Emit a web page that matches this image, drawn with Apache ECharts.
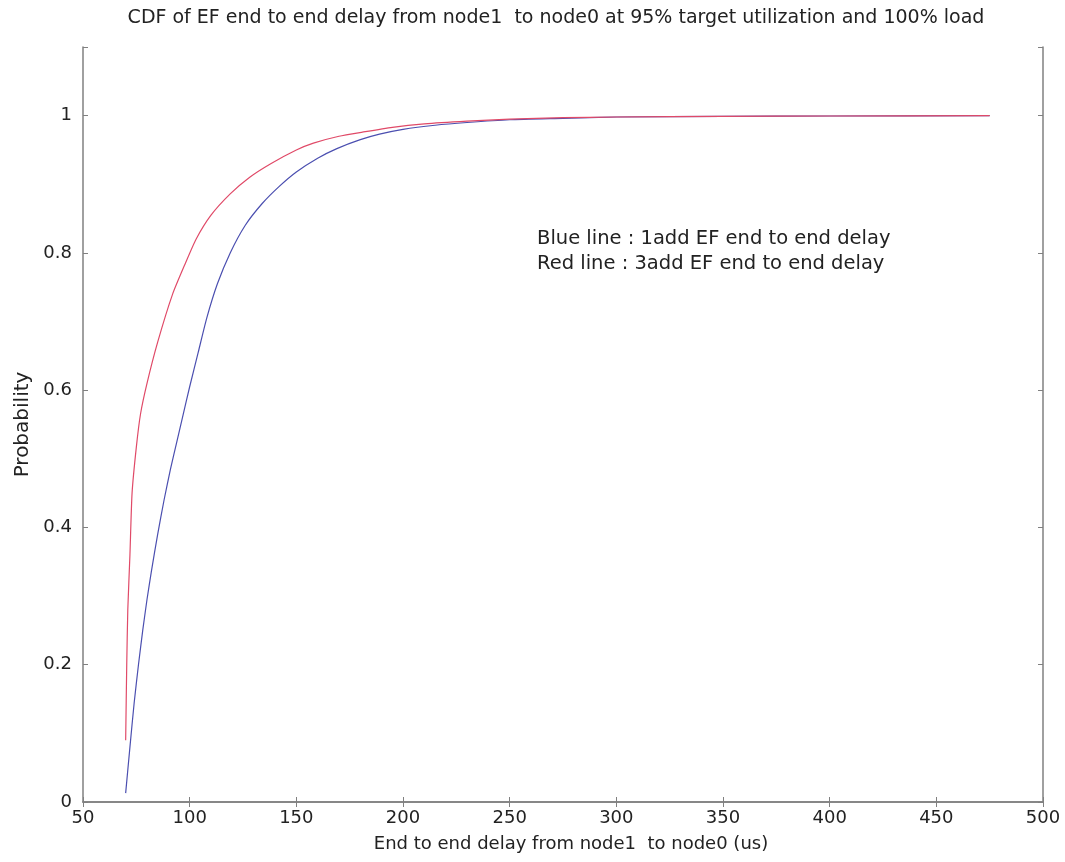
<!DOCTYPE html>
<html>
<head>
<meta charset="utf-8">
<script src="https://cdn.jsdelivr.net/npm/echarts@6/dist/echarts.min.js"></script>
<style>
  html, body { margin: 0; padding: 0; background: #fff; }
  #chart { width: 1065px; height: 862px; }
</style>
</head>
<body>
<div id="chart"></div>
<script>
// CDF of end-to-end delay (x in us, y = cumulative probability)
const delay1add = [70, 72, 74, 76, 78, 80, 82, 85, 88, 91, 94, 97, 100, 104, 108, 113, 119, 126, 134, 142, 150, 160, 169, 180, 189, 200, 215, 230, 250, 275, 300, 350, 400, 475];
const prob1add  = [0.013, 0.08, 0.145, 0.2, 0.25, 0.295, 0.335, 0.39, 0.44, 0.485, 0.525, 0.565, 0.605, 0.655, 0.705, 0.755, 0.80, 0.84, 0.872, 0.897, 0.918, 0.938, 0.952, 0.965, 0.973, 0.980, 0.986, 0.990, 0.994, 0.996, 0.998, 0.999, 0.9995, 1.0];

const delay3add = [70, 70.5, 71, 72, 73, 75, 77, 80, 85, 92, 98, 103, 110, 119, 128, 138, 150, 158, 170, 181, 195, 210, 230, 250, 275, 300, 350, 400, 475];
const prob3add  = [0.09, 0.2, 0.28, 0.36, 0.45, 0.517, 0.566, 0.61, 0.67, 0.74, 0.785, 0.82, 0.855, 0.886, 0.91, 0.93, 0.95, 0.96, 0.97, 0.976, 0.983, 0.988, 0.992, 0.995, 0.997, 0.998, 0.999, 0.9995, 1.0];

const xTicks = [50, 100, 150, 200, 250, 300, 350, 400, 450, 500];
const yTicks = [0, 0.2, 0.4, 0.6, 0.8, 1];

const titleText = 'CDF of EF end to end delay from node1  to node0 at 95% target utilization and 100% load';
const xName = 'End to end delay from node1  to node0 (us)';
const yName = 'Probability';
const noteLines = ['Blue line : 1add EF end to end delay', 'Red line : 3add EF end to end delay'];

const zip = (xs, ys) => xs.map((x, i) => [x, ys[i]]);

const FONT = '"DejaVu Sans", Verdana, sans-serif';
const axisColor = '#808080';
const textColor = '#222';

const chart = echarts.init(document.getElementById('chart'), null, { renderer: 'canvas' });

const baseAxisLine = { show: true, lineStyle: { color: axisColor, width: 1.5 } };
const baseTick = { show: true, inside: true, length: 5, lineStyle: { color: axisColor, width: 1 } };

chart.setOption({
  animation: false,
  backgroundColor: '#fff',
  title: {
    text: titleText,
    left: 551, top: 4, textAlign: 'center',
    textStyle: { fontFamily: FONT, fontSize: 19, fontWeight: 'normal', color: textColor }
  },
  grid: { left: 83, right: 22, top: 47, bottom: 60, containLabel: false },
  xAxis: [
    {
      type: 'value', min: 50, max: 500, interval: 50,
      name: xName, nameLocation: 'middle', nameGap: 33,
      nameTextStyle: { fontFamily: FONT, fontSize: 18, color: textColor, padding: [0, 0, 0, 16] },
      axisLine: baseAxisLine, axisTick: baseTick,
      axisLabel: {
        fontFamily: FONT, fontSize: 18, color: textColor, margin: 7,
        formatter: v => (xTicks.includes(v) ? String(v) : '')
      },
      splitLine: { show: false }
    },
    {
      type: 'value', position: 'top', min: 50, max: 500, interval: 50,
      axisLine: baseAxisLine, axisTick: baseTick, axisLabel: { show: false }, splitLine: { show: false }
    }
  ],
  yAxis: [
    {
      type: 'value', min: 0, max: 1.1, interval: 0.2,
      name: yName, nameLocation: 'middle', nameGap: 46, nameRotate: 90,
      nameTextStyle: { fontFamily: FONT, fontSize: 20, color: textColor },
      axisLine: baseAxisLine, axisTick: baseTick,
      axisLabel: {
        fontFamily: FONT, fontSize: 18, color: textColor, margin: 11,
        formatter: v => {
          const t = yTicks.find(k => Math.abs(k - v) < 1e-9);
          return t === undefined ? '' : String(t);
        }
      },
      splitLine: { show: false }
    },
    {
      type: 'value', position: 'right', min: 0, max: 1.1, interval: 0.2,
      axisLine: baseAxisLine, axisTick: baseTick, axisLabel: { show: false }, splitLine: { show: false }
    }
  ],
  series: [
    {
      name: '1add', type: 'line', data: zip(delay1add, prob1add),
      showSymbol: false, smooth: 0.2,
      lineStyle: { color: '#4b4fb0', width: 1.2 }
    },
    {
      name: '3add', type: 'line', data: zip(delay3add, prob3add),
      showSymbol: false, smooth: 0.2,
      lineStyle: { color: '#e04a68', width: 1.2 }
    }
  ],
  graphic: noteLines.map((line, i) => ({
    type: 'text', left: 537, top: 229 + i * 25,
    style: { text: line, fontFamily: FONT, fontSize: 19.5, fill: textColor }
  }))
});
</script>
</body>
</html>
